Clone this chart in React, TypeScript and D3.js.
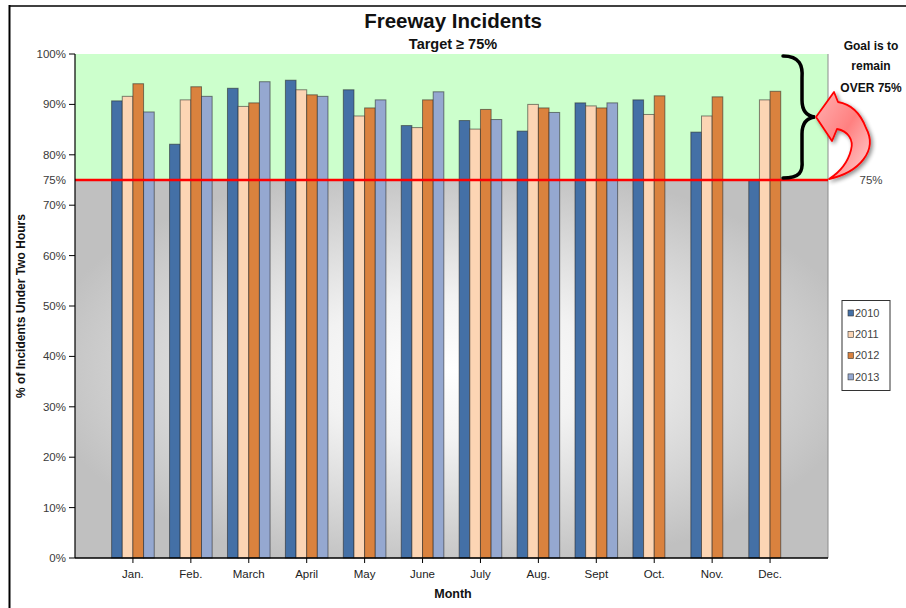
import React from "react";
import * as d3 from "d3";

const months = ["Jan.", "Feb.", "March", "April", "May", "June", "July", "Aug.", "Sept", "Oct.", "Nov.", "Dec."];
const years = ["2010", "2011", "2012", "2013"];
const v2010 = [90.7, 82.1, 93.2, 94.8, 92.9, 85.8, 86.8, 84.7, 90.3, 90.9, 84.5, 75.0];
const v2011 = [91.6, 90.9, 89.6, 92.9, 87.7, 85.4, 85.1, 90.0, 89.7, 88.0, 87.7, 90.9];
const v2012 = [94.1, 93.5, 90.3, 91.9, 89.3, 90.9, 89.0, 89.3, 89.3, 91.7, 91.5, 92.6];
const v2013: (number | null)[] = [88.5, 91.6, 94.5, 91.6, 90.9, 92.5, 87.0, 88.4, 90.3, null, null, null];
const yTicks = [0, 10, 20, 30, 40, 50, 60, 70, 80, 90, 100];
const target = 75;

const colors = ["#4470A6", "#FCD5B4", "#DA823E", "#95A8D0"];
const seriesValues = [v2010, v2011, v2012, v2013];

const W = 906, H = 608;
const left = 75, right = 828, top = 54, bottom = 558;
const FONT = "'Liberation Sans', Arial, sans-serif";

export default function App() {
  const x = d3.scaleLinear().domain([0, months.length + 1]).range([left, right]);
  const y = d3.scaleLinear().domain([0, 100]).range([bottom, top]);
  const xb = d3.scaleBand().domain(years).range([-21.3, 21.3]).padding(0);
  const yT = y(target);

  return (
    <svg width={W} height={H} style={{ position: "absolute", left: 0, top: 0, background: "#fff" }} fontFamily={FONT}>
      <defs>
        <radialGradient id="grayGrad" cx="0.5" cy="0.5" r="0.55">
          <stop offset="0" stopColor="#ffffff" />
          <stop offset="0.35" stopColor="#f2f2f2" />
          <stop offset="1" stopColor="#c0c0c0" />
        </radialGradient>
        <linearGradient id="arrowGrad" x1="0" y1="0" x2="1" y2="1">
          <stop offset="0" stopColor="#ffb0b0" />
          <stop offset="0.5" stopColor="#ff8080" />
          <stop offset="1" stopColor="#ffd6d6" />
        </linearGradient>
        <filter id="shadow" x="-30%" y="-30%" width="160%" height="160%">
          <feGaussianBlur in="SourceAlpha" stdDeviation="2" />
          <feOffset dx="2" dy="2" result="b" />
          <feComponentTransfer><feFuncA type="linear" slope="0.45" /></feComponentTransfer>
          <feMerge><feMergeNode /><feMergeNode in="SourceGraphic" /></feMerge>
        </filter>
      </defs>

      {/* frame */}
      <line x1={9} x2={W} y1={6} y2={6} stroke="#000" strokeWidth={1.6} />
      <line x1={9.5} x2={9.5} y1={5} y2={H} stroke="#000" strokeWidth={2} />

      {/* backgrounds */}
      <rect x={left} y={top} width={right - left} height={yT - top} fill="#CCFFCC" />
      <rect x={left} y={yT} width={right - left} height={bottom - yT} fill="url(#grayGrad)" />
      <line x1={right} x2={right} y1={top} y2={bottom} stroke="#8c8c8c" strokeWidth={1} />

      {/* bars */}
      {months.map((m, i) => (
        <g key={m} transform={`translate(${x(i + 1)},0)`}>
          {years.map((yr, k) => {
            const v = seriesValues[k][i];
            if (v == null) return null;
            return (
              <rect key={yr} x={xb(yr)!} y={y(v)} width={xb.bandwidth()} height={bottom - y(v)}
                fill={colors[k]} stroke="#222" strokeOpacity={0.55} strokeWidth={1} />
            );
          })}
        </g>
      ))}

      {/* target line */}
      <line x1={left} x2={right} y1={yT} y2={yT} stroke="#ff0000" strokeWidth={2.5} />

      {/* axes */}
      <line x1={left} x2={left} y1={top} y2={bottom} stroke="#000" strokeWidth={1.2} />
      <line x1={left} x2={right} y1={bottom} y2={bottom} stroke="#000" strokeWidth={1.5} />
      {yTicks.map((t) => (
        <g key={t}>
          <line x1={left - 6} x2={left} y1={y(t)} y2={y(t)} stroke="#000" strokeWidth={1} />
          <text x={left - 9} y={y(t)} dy="0.35em" textAnchor="end" fontSize={11.5} fill="#3a3a3a">{t}%</text>
        </g>
      ))}
      <text x={left - 9} y={yT} dy="0.35em" textAnchor="end" fontSize={11.5} fill="#3a3a3a">{target}%</text>
      {months.map((m, i) => (
        <g key={m}>
          <line x1={x(i + 1)} x2={x(i + 1)} y1={bottom} y2={bottom + 5} stroke="#000" strokeWidth={1} />
          <text x={x(i + 1)} y={bottom + 20} textAnchor="middle" fontSize={11.5} fill="#222">{m}</text>
        </g>
      ))}

      {/* titles */}
      <text x={453} y={28} textAnchor="middle" fontSize={20.5} fontWeight="bold" fill="#111">Freeway Incidents</text>
      <text x={453} y={49} textAnchor="middle" fontSize={14.5} fontWeight="bold" fill="#111">Target ≥ 75%</text>
      <text x={453} y={598} textAnchor="middle" fontSize={12.5} fontWeight="bold" fill="#111">Month</text>
      <text transform={`translate(25,${(top + bottom) / 2}) rotate(-90)`} textAnchor="middle" fontSize={12} fontWeight="bold" fill="#111">% of Incidents Under Two Hours</text>

      {/* legend */}
      <rect x={842} y={300.5} width={48} height={90} fill="#fff" stroke="#333" strokeWidth={1} />
      {years.map((yr, k) => (
        <g key={yr} transform={`translate(848,${313 + k * 21.3})`}>
          <rect x={0} y={-3} width={5.5} height={6} fill={colors[k]} stroke="#333" strokeWidth={0.6} />
          <text x={7} y={0} dy="0.35em" fontSize={11} fill="#444">{yr}</text>
        </g>
      ))}

      {/* annotation */}
      <text x={871} y={50} textAnchor="middle" fontSize={12} fontWeight="bold" fill="#111">Goal is to</text>
      <text x={871} y={70} textAnchor="middle" fontSize={12} fontWeight="bold" fill="#111">remain</text>
      <text x={871} y={92} textAnchor="middle" fontSize={12} fontWeight="bold" fill="#111">OVER 75%</text>
      <path d={`M783 56 C800 56, 803 66, 802 78 L802 100 C802 110, 806 116, 815 117 C806 118, 802 124, 802 134 L802 160 C803 172, 800 178, 783 178`}
        fill="none" stroke="#000" strokeWidth={3.5} strokeLinecap="round" />
      <path filter="url(#shadow)"
        d="M829 179 C860 172, 878 150, 866 128 C860 112, 850 104, 838 102 L834 92 L816 117 L832 141 L837 129 C848 131, 854 140, 851 150 C848 162, 840 172, 829 179 Z"
        fill="url(#arrowGrad)" stroke="#ff0000" strokeWidth={1.8} strokeLinejoin="round" />
      <text x={871} y={yT} dy="0.35em" textAnchor="middle" fontSize={11.5} fill="#444">75%</text>
    </svg>
  );
}
